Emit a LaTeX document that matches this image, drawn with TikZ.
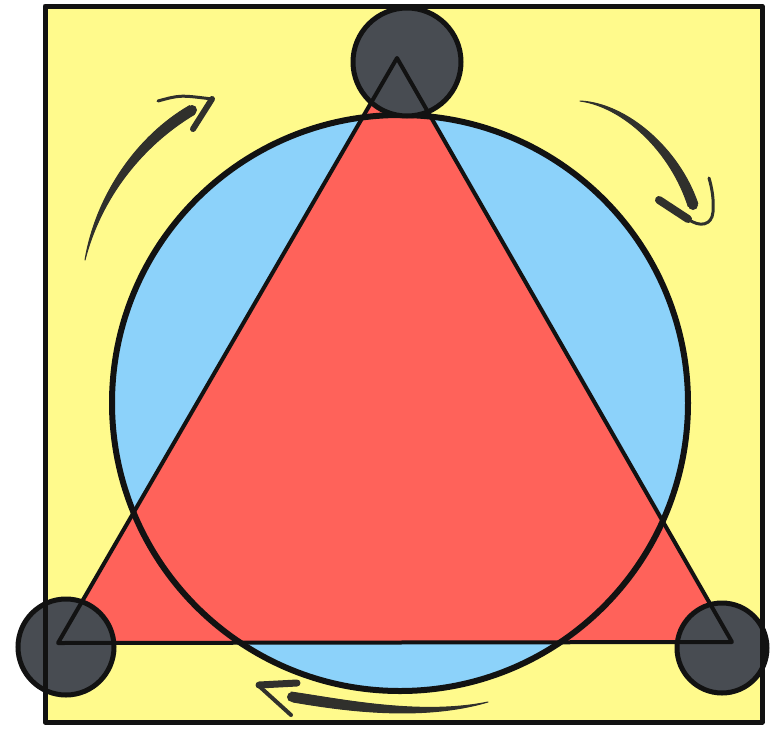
\documentclass[tikz,border=0pt]{standalone}
\definecolor{padyellow}{RGB}{255,250,140}
\definecolor{discblue}{RGB}{140,210,250}
\definecolor{trired}{RGB}{255,98,90}
\definecolor{knob}{RGB}{72,76,82}
\definecolor{ink}{RGB}{18,18,18}
\definecolor{pen}{RGB}{48,48,44}
\tikzset{
  outline/.style={draw=ink, line join=round, line cap=round},
  knobdisc/.style={fill=knob, draw=ink, line width=5pt},
  penfill/.style={fill=pen, draw=pen, line width=1pt, line join=round},
  penline/.style={draw=pen, line cap=round, line join=round},
}
\begin{document}
\begin{tikzpicture}[x=1pt,y=-1pt]
\useasboundingbox (0,0) rectangle (777,729);
\fill[white] (0,0) rectangle (777,729);
% coordinates
\coordinate (sqA) at (45,6);
\coordinate (sqB) at (762,722);
\coordinate (cc) at (400,403);
\coordinate (tA) at (397,58);
\coordinate (tB) at (58,643);
\coordinate (tC) at (732,642);
% fills
\fill[padyellow] (sqA) rectangle (sqB);
\fill[discblue] (cc) circle[radius=288];
\fill[trired] (tA) -- (tB) -- (tC) -- cycle;
% circle outline
\draw[outline, line width=6pt] (cc) circle[radius=288];
% knobs
\draw[knobdisc] (407,62) circle[radius=54];
\draw[knobdisc] (66,647) circle[radius=48];
\draw[knobdisc] (722,648) circle[radius=45];
% triangle outline
\draw[outline, line width=4pt] (tA) -- (tB) -- (tC) -- cycle;
% square border
\draw[outline, line width=5pt] (sqA) rectangle (sqB);
% arrow top-left
\filldraw[penfill] (85,260) .. controls (96,195) and (137,136) .. (189.5,105.7)
  -- (194.5,114.3) .. controls (143,145) and (101,197) .. (85,260) -- cycle;
\fill[pen] (192,110) circle[radius=5];
\draw[penline, line width=3pt] (158,101) .. controls (180,95) .. (212,99);
\draw[penline, line width=6pt] (212,99) -- (193,129);
% arrow top-right
\filldraw[penfill] (580,101) .. controls (626,103) and (679,148) .. (697.8,203.5)
  -- (688.2,206.5) .. controls (671,152) and (624,107) .. (580,101) -- cycle;
\fill[pen] (693,205) circle[radius=5];
\draw[penline, line width=8pt] (659,200) -- (688,219);
\draw[penline, line width=3pt] (688,219) .. controls (700,228) and (712,225) .. (713,212)
  .. controls (714,200) and (712,188) .. (709,178);
% arrow bottom
\filldraw[penfill] (291,692) .. controls (340,699) and (420,716) .. (488,702)
  .. controls (420,722) and (340,710) .. (293,702) -- cycle;
\fill[pen] (292,697) circle[radius=5];
\draw[penline, line width=7pt] (297,683) -- (259,685);
\draw[penline, line width=4pt] (259,686) -- (291,715);
\end{tikzpicture}
\end{document}
